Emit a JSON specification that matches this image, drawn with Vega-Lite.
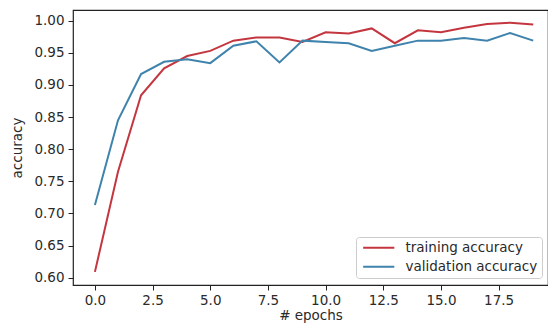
{
  "$schema": "https://vega.github.io/schema/vega-lite/v6.json",
  "autosize": "none",
  "padding": {"left": 73, "top": 10, "right": 0, "bottom": 44},
  "width": 475,
  "height": 275,
  "background": "white",
  "config": {
    "font": "DejaVu Sans",
    "view": {"stroke": "#222", "strokeWidth": 1.2},
    "axis": {
      "grid": false,
      "domain": false,
      "tickColor": "#222",
      "tickSize": 5,
      "tickWidth": 1,
      "labelFont": "DejaVu Sans",
      "labelFontSize": 13.5,
      "labelColor": "#2a2a2a",
      "titleFont": "DejaVu Sans",
      "titleFontSize": 13.5,
      "titleFontWeight": "normal",
      "titleColor": "#2a2a2a"
    }
  },
  "data": {
    "values": [
      {"epoch": 0, "acc": 0.609, "series": "training accuracy"},
      {"epoch": 1, "acc": 0.765, "series": "training accuracy"},
      {"epoch": 2, "acc": 0.884, "series": "training accuracy"},
      {"epoch": 3, "acc": 0.926, "series": "training accuracy"},
      {"epoch": 4, "acc": 0.945, "series": "training accuracy"},
      {"epoch": 5, "acc": 0.953, "series": "training accuracy"},
      {"epoch": 6, "acc": 0.969, "series": "training accuracy"},
      {"epoch": 7, "acc": 0.974, "series": "training accuracy"},
      {"epoch": 8, "acc": 0.974, "series": "training accuracy"},
      {"epoch": 9, "acc": 0.967, "series": "training accuracy"},
      {"epoch": 10, "acc": 0.982, "series": "training accuracy"},
      {"epoch": 11, "acc": 0.980, "series": "training accuracy"},
      {"epoch": 12, "acc": 0.988, "series": "training accuracy"},
      {"epoch": 13, "acc": 0.965, "series": "training accuracy"},
      {"epoch": 14, "acc": 0.985, "series": "training accuracy"},
      {"epoch": 15, "acc": 0.982, "series": "training accuracy"},
      {"epoch": 16, "acc": 0.989, "series": "training accuracy"},
      {"epoch": 17, "acc": 0.995, "series": "training accuracy"},
      {"epoch": 18, "acc": 0.997, "series": "training accuracy"},
      {"epoch": 19, "acc": 0.994, "series": "training accuracy"},
      {"epoch": 0, "acc": 0.713, "series": "validation accuracy"},
      {"epoch": 1, "acc": 0.845, "series": "validation accuracy"},
      {"epoch": 2, "acc": 0.917, "series": "validation accuracy"},
      {"epoch": 3, "acc": 0.936, "series": "validation accuracy"},
      {"epoch": 4, "acc": 0.940, "series": "validation accuracy"},
      {"epoch": 5, "acc": 0.934, "series": "validation accuracy"},
      {"epoch": 6, "acc": 0.961, "series": "validation accuracy"},
      {"epoch": 7, "acc": 0.968, "series": "validation accuracy"},
      {"epoch": 8, "acc": 0.935, "series": "validation accuracy"},
      {"epoch": 9, "acc": 0.969, "series": "validation accuracy"},
      {"epoch": 10, "acc": 0.967, "series": "validation accuracy"},
      {"epoch": 11, "acc": 0.965, "series": "validation accuracy"},
      {"epoch": 12, "acc": 0.953, "series": "validation accuracy"},
      {"epoch": 13, "acc": 0.961, "series": "validation accuracy"},
      {"epoch": 14, "acc": 0.969, "series": "validation accuracy"},
      {"epoch": 15, "acc": 0.969, "series": "validation accuracy"},
      {"epoch": 16, "acc": 0.973, "series": "validation accuracy"},
      {"epoch": 17, "acc": 0.969, "series": "validation accuracy"},
      {"epoch": 18, "acc": 0.981, "series": "validation accuracy"},
      {"epoch": 19, "acc": 0.969, "series": "validation accuracy"}
    ]
  },
  "mark": {"type": "line", "strokeWidth": 2, "clip": true},
  "encoding": {
    "x": {
      "field": "epoch",
      "type": "quantitative",
      "scale": {"domain": [-0.95, 19.64], "nice": false, "zero": false},
      "axis": {
        "title": "# epochs",
        "values": [0, 2.5, 5, 7.5, 10, 12.5, 15, 17.5],
        "format": ".1f",
        "labelPadding": 3,
        "titlePadding": 2
      }
    },
    "y": {
      "field": "acc",
      "type": "quantitative",
      "scale": {"domain": [0.5886, 1.0167], "nice": false, "zero": false},
      "axis": {
        "title": "accuracy",
        "values": [0.6, 0.65, 0.7, 0.75, 0.8, 0.85, 0.9, 0.95, 1.0],
        "format": ".2f",
        "labelPadding": 4,
        "titlePadding": 9
      }
    },
    "color": {
      "field": "series",
      "type": "nominal",
      "scale": {
        "domain": ["training accuracy", "validation accuracy"],
        "range": ["#c4363f", "#3f83ad"]
      },
      "legend": {
        "title": null,
        "orient": "none",
        "legendX": 283,
        "legendY": 227,
        "symbolType": "M-6,0H6",
        "symbolSize": 27,
        "symbolStrokeWidth": 2,
        "labelFontSize": 13.5,
        "labelColor": "#2a2a2a",
        "labelFont": "DejaVu Sans",
        "strokeColor": "#cccccc",
        "fillColor": "white",
        "cornerRadius": 3,
        "padding": 4,
        "rowPadding": 4,
        "symbolOffset": 12,
        "labelOffset": 20
      }
    }
  }
}
